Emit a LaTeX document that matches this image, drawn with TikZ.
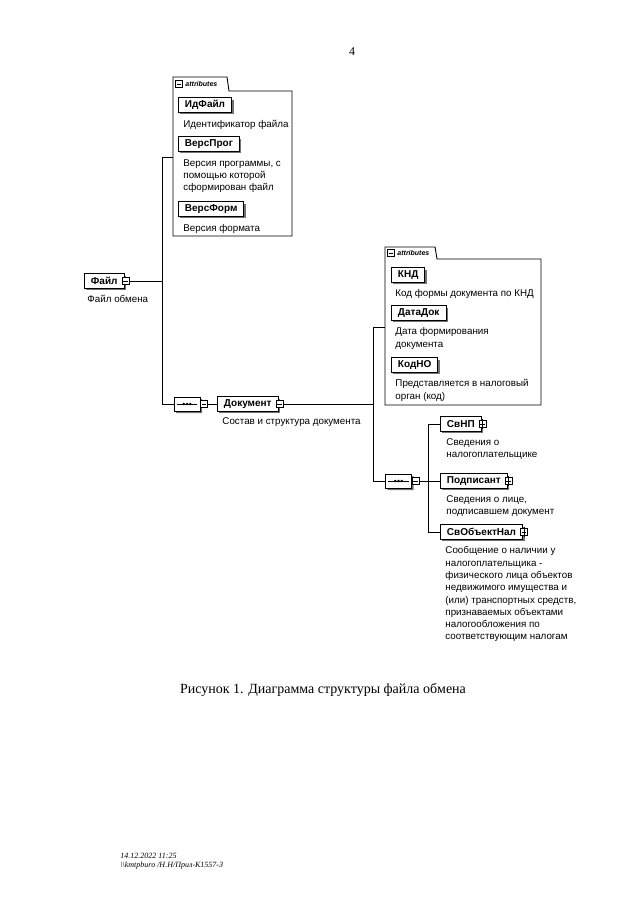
\documentclass[tikz,border=0pt]{standalone}
\usepackage{fontspec}
\setmainfont{Liberation Serif}
\newfontfamily\diagfont{Liberation Sans}
\usetikzlibrary{positioning,shadows,shapes.misc}

\tikzset{
  elem/.style={draw, fill=white, anchor=west, inner xsep=6.5pt, inner ysep=0pt,
    minimum height=14.5pt, font=\diagfont\bfseries\fontsize{10}{12}\selectfont,
    drop shadow={shadow xshift=2pt, shadow yshift=-2pt, fill=black!55, opacity=1}},
  descr/.style={inner sep=0pt, align=left, font=\diagfont\fontsize{9.8}{12.3}\selectfont},
  expander/.style={draw, fill=white, inner sep=0pt, minimum size=7pt},
  seqbox/.style={draw, fill=white, chamfered rectangle, chamfered rectangle xsep=3pt,
    inner sep=0pt, minimum width=26pt, minimum height=14pt,
    drop shadow={shadow xshift=2pt, shadow yshift=-2pt, fill=black!55, opacity=1}},
  attrtab/.style={inner sep=0pt, anchor=west, font=\diagfont\bfseries\itshape\fontsize{7}{8}\selectfont}
}

\begin{document}
\begin{tikzpicture}[x=1pt, y=-1pt, line width=0.9pt]
\useasboundingbox[fill=white] (0,0) rectangle (640,905);

\node[font=\fontsize{12}{14}\selectfont] (pagenum) at (352,52) {4};

\draw[fill=white] (173,77) -- (227,77) -- (229,91) -- (292,91) -- (292,236) -- (173,236) -- cycle;
\node[expander] (attrAx) at (179,84) {};
\draw ([xshift=1.5pt]attrAx.west) -- ([xshift=-1.5pt]attrAx.east);
\node[attrtab] (attrAt) at (185,84) {attributes};

\node[elem] (idf) at (178,105) {ИдФайл};
\node[descr, below right=7pt and 5pt of idf.south west] (idfD) {Идентификатор файла};
\node[elem] (vprog) at (178,144) {ВерсПрог};
\node[descr, below right=7.5pt and 5pt of vprog.south west] (vprogD) {Версия программы, с\\помощью которой\\сформирован файл};
\node[elem] (vform) at (178,209) {ВерсФорм};
\node[descr, below right=7pt and 5pt of vform.south west] (vformD) {Версия формата};

\node[elem] (fil) at (84,281) {Файл\hspace{5pt}};
\node[descr, below right=6.5pt and 3pt of fil.south west] (filD) {Файл обмена};
\node[expander] (filX) at ([xshift=1pt]fil.east) {};
\draw ([xshift=1.5pt]filX.west) -- ([xshift=-1.5pt]filX.east);

\coordinate (jA) at (162,281);
\coordinate (jAtop) at (162,157);
\coordinate (jAbot) at (162,404);
\coordinate (attrA) at (173,157);
\draw (filX.east) -- (jA);
\draw (attrA) -- (jAtop) -- (jAbot);

\node[seqbox] (seqA) at (187,404) {};
\draw ([xshift=3pt]seqA.west) -- ([xshift=-3pt]seqA.east);
\foreach \d in {-3.3,0,3.3}
  \fill ([xshift=\d pt]seqA.center) circle (1.4pt);
\node[expander] (seqAx) at ([xshift=3.5pt]seqA.east) {};
\draw ([xshift=1.5pt]seqAx.west) -- ([xshift=-1.5pt]seqAx.east);
\draw (jAbot) -- (seqA.west);

\node[elem] (dok) at (217,404) {Документ};
\node[descr, below right=6pt and 5pt of dok.south west] (dokD) {Состав и структура документа};
\node[expander] (dokX) at ([xshift=1pt]dok.east) {};
\draw ([xshift=1.5pt]dokX.west) -- ([xshift=-1.5pt]dokX.east);
\draw (seqAx.east) -- (dok.west);

\draw[fill=white] (385,247) -- (435,247) -- (437,259) -- (541,259) -- (541,405) -- (385,405) -- cycle;
\node[expander] (attrBx) at (391,253) {};
\draw ([xshift=1.5pt]attrBx.west) -- ([xshift=-1.5pt]attrBx.east);
\node[attrtab] (attrBt) at (397,253) {attributes};

\node[elem] (knd) at (391,275) {КНД\hspace{4pt}};
\node[descr, below right=6.5pt and 4pt of knd.south west] (kndD) {Код формы документа по КНД};
\node[elem] (datadok) at (391,313) {ДатаДок};
\node[descr, below right=6.5pt and 4pt of datadok.south west] (datadokD) {Дата формирования\\документа};
\node[elem] (kodno) at (391,365) {КодНО};
\node[descr, below right=6.5pt and 4pt of kodno.south west] (kodnoD) {Представляется в налоговый\\орган (код)};

\coordinate (jB) at (373,404);
\coordinate (jBtop) at (373,327);
\coordinate (jBbot) at (373,481);
\coordinate (attrB) at (385,327);
\draw (dokX.east) -- (jB);
\draw (attrB) -- (jBtop) -- (jBbot);

\node[seqbox] (seqB) at (398.5,481) {};
\draw ([xshift=3pt]seqB.west) -- ([xshift=-3pt]seqB.east);
\foreach \d in {-3.3,0,3.3}
  \fill ([xshift=\d pt]seqB.center) circle (1.4pt);
\node[expander] (seqBx) at ([xshift=3.5pt]seqB.east) {};
\draw ([xshift=1.5pt]seqBx.west) -- ([xshift=-1.5pt]seqBx.east);
\draw (jBbot) -- (seqB.west);

\coordinate (jC) at (428,481);
\coordinate (jCtop) at (428,424);
\coordinate (jCbot) at (428,532);
\draw (seqBx.east) -- (jC);

\node[elem] (svnp) at (440,424) {СвНП\hspace{3pt}};
\node[descr, below right=6.5pt and 6pt of svnp.south west] (svnpD) {Сведения о\\налогоплательщике};
\node[elem] (podp) at (440,481) {Подписант};
\node[descr, below right=6.5pt and 6pt of podp.south west] (podpD) {Сведения о лице,\\подписавшем документ};
\node[elem] (svobj) at (440,532) {СвОбъектНал};
\node[descr, below right=6.5pt and 5pt of svobj.south west] (svobjD) {Сообщение о наличии у\\налогоплательщика -\\физического лица объектов\\недвижимого имущества и\\(или) транспортных средств,\\признаваемых объектами\\налогообложения по\\соответствующим налогам};
\foreach \n in {svnp,podp,svobj} {
  \node[expander] (\n X) at ([xshift=1pt]\n.east) {};
  \draw ([xshift=1.5pt]\n X.west) -- ([xshift=-1.5pt]\n X.east);
  \draw ([yshift=1.5pt]\n X.north) -- ([yshift=-1.5pt]\n X.south);
}
\draw (jCtop) -- (svnp.west);
\draw (jC) -- (podp.west);
\draw (jCbot) -- (svobj.west);
\draw (jCtop) -- (jCbot);

\node[font=\fontsize{14}{16}\selectfont] (caption) at (323,690) {Рисунок 1. Диаграмма структуры файла обмена};

\node[anchor=west, align=left, inner sep=0pt, font=\itshape\fontsize{8}{9}\selectfont] (footer) at (120,861.5) {14.12.2022 11:25\\\textbackslash\textbackslash kmtpburo /Н.Н/Прил-К1557-3};
\end{tikzpicture}
\end{document}
